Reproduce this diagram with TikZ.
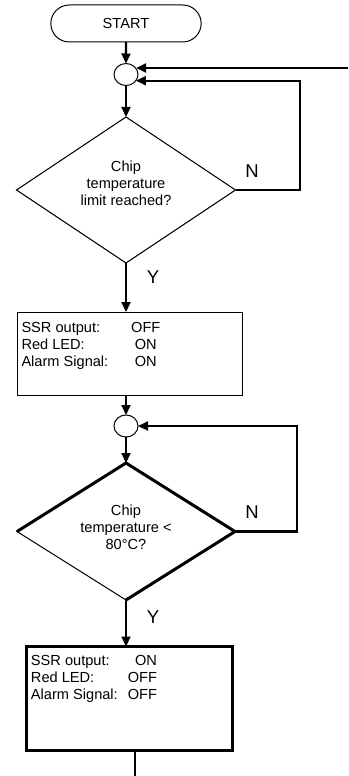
\documentclass[tikz,border=0pt]{standalone}
\usepackage{fontspec}
\setmainfont{Liberation Sans}
\usepackage{tikz}
\usetikzlibrary{positioning}
\usetikzlibrary{arrows.meta}
\usetikzlibrary{shapes.geometric, shapes.misc}

\newcommand{\flowfont}{\fontsize{14.6}{17}\selectfont}
\newcommand{\yesnofont}{\fontsize{18.5}{20}\selectfont}

\begin{document}
\begin{tikzpicture}[
            x = 1pt, y = 1pt,
            > = {Triangle[length=10pt,width=9pt]}, % arrow head style
            outer sep = 0pt, % anchors on the line itself
            font = \flowfont,
            line width = 1pt % line style
            ]

        \tikzstyle{terminal}=[draw, rounded rectangle, minimum width = 157pt, minimum height = 37pt]
        \tikzstyle{joint}=[draw, ellipse, inner sep = 0pt, minimum width = 24pt, minimum height = 22pt]
        \tikzstyle{decision}=[draw, diamond, inner sep = 0pt, shape aspect = 1.6]
        \tikzstyle{action}=[draw, inner sep = 0pt]
        \tikzstyle{flow}=[line width = 2.2pt]
        \tikzstyle{yesno}=[inner sep = 0pt, font = \yesnofont]

        \useasboundingbox (0,0) rectangle (348,-776);

        % start and first test
        \node[terminal] (S) at (126,-23.5) {START};
        \node[joint] (C1) [below = 21.5pt of S] {};
        \node[decision] (D1) [below = 31.5pt of C1, minimum width = 219pt, minimum height = 146pt]
            {\parbox[c][58pt][t]{120pt}{\centering Chip\\temperature\\limit reached?}};
        \coordinate (in1) at (348,-68);

        \path[->, flow] (S) edge node {} (C1);
        \path[->, flow] (C1) edge node {} (D1);
        \draw[->, flow] (in1) -- (in1 -| C1.30);
        \draw[->, flow] (D1.east) -- ++(64.5,0) |- (C1.-32);
        \node[yesno] (N1) at ([xshift=16.5pt,yshift=19pt]D1.east) {N};
        \node[yesno] (Y1) at ([xshift=27pt,yshift=-14pt]D1.south) {Y};

        % alarm state
        \node[action] (B1) [below = 49pt of D1, xshift = 3.5pt] {\parbox[c][83pt][t]{225pt}{\vspace*{8.4pt}\hspace*{4.5pt}%
            \begin{tabular}[t]{@{}l@{}}
            \makebox[109.3pt][l]{SSR output:}\makebox[30pt]{OFF}\\
            \makebox[109.3pt][l]{Red LED:}\makebox[30pt]{ON}\\
            \makebox[109.3pt][l]{Alarm Signal:}\makebox[30pt]{ON}
            \end{tabular}}};
        \draw[->, flow] (D1.south) -- (D1.south |- B1.north);

        % second test
        \node[joint] (C2) [below = 20pt of B1, xshift = -3.5pt] {};
        \node[decision] (D2) [below = 26pt of C2, minimum width = 218pt, minimum height = 137pt]
            {\parbox[c][54pt][t]{120pt}{\centering Chip\\temperature <\\80°C?}};
        \draw[line width = 3pt] (D2.west) -- (D2.north) -- (D2.east) -- (D2.south);

        \draw[->, flow] (B1.south -| C2) -- (C2.north);
        \path[->, flow] (C2) edge node {} (D2);
        \draw[->, flow] (D2.east) -- ++(62,0) |- (C2.east);
        \node[yesno] (N2) at ([xshift=17pt,yshift=19.5pt]D2.east) {N};
        \node[yesno] (Y2) at ([xshift=27pt,yshift=-17pt]D2.south) {Y};

        % normal state
        \node[action] (B2) [below = 46.5pt of D2, xshift = 3.5pt, line width = 3pt] {\parbox[c][104pt][t]{206pt}{\vspace*{7.2pt}\hspace*{4.5pt}%
            \begin{tabular}[t]{@{}l@{}}
            \makebox[96pt][l]{SSR output:}\makebox[30pt][r]{ON}\\
            \makebox[96pt][l]{Red LED:}\makebox[30pt][r]{OFF}\\
            \makebox[96pt][l]{Alarm Signal:}\makebox[30pt][r]{OFF}
            \end{tabular}}};
        \draw[->, flow] (D2.south) -- (D2.south |- B2.north);
        \coordinate (out) at (135,-776);
        \draw[flow] (B2.south -| out) -- (out);

  \end{tikzpicture}
\end{document}
